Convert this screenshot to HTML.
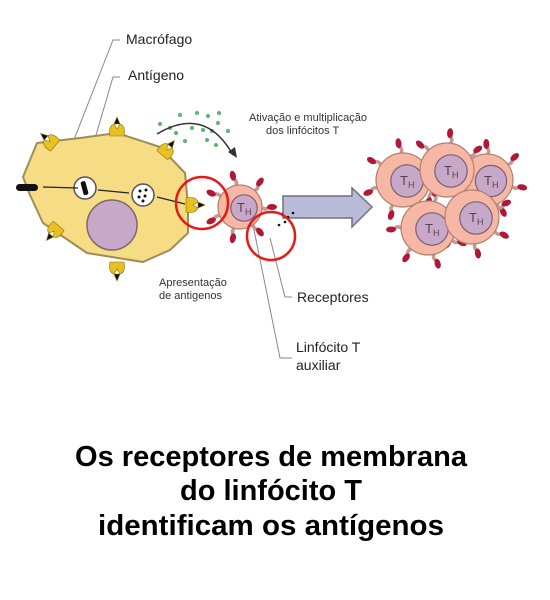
<!DOCTYPE html>
<html><head><meta charset="utf-8"><style>
html,body{margin:0;padding:0;background:#fff;width:550px;height:600px;overflow:hidden}
svg{display:block}
text{font-family:"Liberation Sans","DejaVu Sans",sans-serif}
</style></head><body>
<svg width="550" height="600" viewBox="0 0 550 600">
<g stroke="#888" fill="none" stroke-width="1">
<polyline points="68,155 113,40 120,40"/>
<polyline points="80,190 113,77 120,77"/>
<polyline points="253,225 280,358 292,358"/>
<polyline points="270,238 285,297 292,297"/>
</g>
<polygon points="23,177 37,143 80,138 117,133 160,147 185,173 188,205 188,233 170,250 143,262 87,253 43,223 30,195" fill="#f6dc85" stroke="#a08c55" stroke-width="2" stroke-linejoin="round"/>
<circle cx="112" cy="225" r="25" fill="#c8a8c8" stroke="#7a6a6a" stroke-width="1.5"/>
<circle cx="85" cy="188" r="11" fill="#fff" stroke="#555" stroke-width="1.5"/>
<rect x="82" y="181" width="5" height="14" rx="2" fill="#111" transform="rotate(-15 85 188)"/>
<circle cx="143" cy="195" r="11" fill="#fff" stroke="#555" stroke-width="1.5"/>
<g fill="#111"><circle cx="140" cy="191" r="1.5"/><circle cx="146" cy="190" r="1.5"/><circle cx="139" cy="197" r="1.5"/><circle cx="145" cy="196" r="1.5"/><circle cx="143" cy="201" r="1.5"/></g>
<rect x="16" y="184" width="22" height="7" rx="3.5" fill="#111"/>
<g stroke="#222" stroke-width="1.2" fill="#222">
<line x1="43" y1="187" x2="78" y2="188"/><line x1="98" y1="190" x2="129" y2="193"/><line x1="157" y1="197" x2="185" y2="204"/>
</g>
<g fill="#e8c020" stroke="#8a7010" stroke-width="0.6">
<g transform="translate(117,124)"><path d="M-7,12 Q-9,2 -3,0 L0,5 L3,0 Q9,2 7,12 Z"/><path d="M-3,0 L0,-7 L3,0 Z" fill="#111"/></g>
<g transform="translate(46,138) rotate(-50)"><path d="M-7,12 Q-9,2 -3,0 L0,5 L3,0 Q9,2 7,12 Z"/><path d="M-3,0 L0,-7 L3,0 Z" fill="#111"/></g>
<g transform="translate(170,146) rotate(40)"><path d="M-7,12 Q-9,2 -3,0 L0,5 L3,0 Q9,2 7,12 Z"/><path d="M-3,0 L0,-7 L3,0 Z" fill="#111"/></g>
<g transform="translate(51,235) rotate(-140)"><path d="M-7,12 Q-9,2 -3,0 L0,5 L3,0 Q9,2 7,12 Z"/><path d="M-3,0 L0,-7 L3,0 Z" fill="#111"/></g>
<g transform="translate(117,274) rotate(180)"><path d="M-7,12 Q-9,2 -3,0 L0,5 L3,0 Q9,2 7,12 Z"/><path d="M-3,0 L0,-7 L3,0 Z" fill="#111"/></g>
<g transform="translate(198,205) rotate(90)"><path d="M-7,12 Q-9,2 -3,0 L0,5 L3,0 Q9,2 7,12 Z"/><path d="M-3,0 L0,-7 L3,0 Z" fill="#111"/></g>
</g>
<g fill="#5bb56a">
<circle cx="160" cy="124" r="2"/><circle cx="176" cy="133" r="2"/><circle cx="192" cy="128" r="2"/><circle cx="197" cy="113" r="2"/><circle cx="208" cy="116" r="2"/><circle cx="219" cy="113" r="2"/><circle cx="203" cy="130" r="2"/><circle cx="212" cy="131" r="2"/><circle cx="218" cy="123" r="2"/><circle cx="228" cy="131" r="2"/><circle cx="170" cy="128" r="2"/><circle cx="185" cy="141" r="2"/><circle cx="207" cy="140" r="2"/><circle cx="216" cy="145" r="2"/><circle cx="180" cy="115" r="2"/>
</g>
<path d="M157,134 Q205,105 233,155" fill="none" stroke="#333" stroke-width="1.5"/>
<polygon points="228,152 237,158 235,147" fill="#333"/>
<polygon points="283,196 352,196 352,188 372,207 352,227 352,218 283,218" fill="#b8bcd8" stroke="#707080" stroke-width="1.5"/>
<g fill="#111"><circle cx="282" cy="214" r="1.3"/><circle cx="288" cy="217" r="1.3"/><circle cx="293" cy="213" r="1.3"/><circle cx="285" cy="222" r="1.3"/><circle cx="292" cy="224" r="1.3"/><circle cx="279" cy="225" r="1.3"/></g>
<g id="cells"></g>
<circle cx="202" cy="203" r="26" fill="none" stroke="#e81818" stroke-width="2.5"/>
<circle cx="271" cy="236" r="24" fill="none" stroke="#e81818" stroke-width="2.5"/>
<text x="126" y="44" font-size="14" fill="#222">Macrófago</text>
<text x="128" y="80" font-size="14" fill="#222">Antígeno</text>
<text x="249" y="121" font-size="11" fill="#333">Ativação e multiplicação</text>
<text x="266" y="134" font-size="11" fill="#333">dos linfócitos T</text>
<text x="159" y="286" font-size="11" fill="#333">Apresentação</text>
<text x="159" y="299" font-size="11" fill="#333">de antigenos</text>
<text x="297" y="302" font-size="14" fill="#222">Receptores</text>
<text x="296" y="352" font-size="14" fill="#222">Linfócito T</text>
<text x="296" y="370" font-size="14" fill="#222">auxiliar</text>
<g font-size="29" font-weight="bold" fill="#000" text-anchor="middle">
<text x="271" y="466" textLength="392" lengthAdjust="spacingAndGlyphs">Os receptores de membrana</text>
<text x="271" y="500">do linfócito T</text>
<text x="271" y="535" textLength="346" lengthAdjust="spacingAndGlyphs">identificam os antígenos</text>
</g>
</svg>
<script>
const NS='http://www.w3.org/2000/svg';
const g=document.getElementById('cells');
const cells=[[240,207,22],[403,180,27],[487,180,26],[447,170,27],[428,228,27],[472,217,27]];
function mk(t,a){const e=document.createElementNS(NS,t);for(const k in a)e.setAttribute(k,a[k]);return e;}
cells.forEach(([x,y,r],i)=>{
  const cg=mk('g',{});
  
  
  for(let k=0;k<7;k++){
    const a=k*2*Math.PI/7+i;
    const rx=x+Math.cos(a)*(r+7),ry=y+Math.sin(a)*(r+7);
    cg.appendChild(mk('path',{d:`M${x+Math.cos(a)*(r-2)} ${y+Math.sin(a)*(r-2)} Q${x+Math.cos(a+0.15)*(r+4)} ${y+Math.sin(a+0.15)*(r+4)} ${rx} ${ry}`,stroke:'#c89890','stroke-width':3.5,fill:'none'}));
    cg.appendChild(mk('ellipse',{cx:rx+Math.cos(a)*3,cy:ry+Math.sin(a)*3,rx:5,ry:3,fill:'#b01838',transform:`rotate(${a*180/Math.PI} ${rx+Math.cos(a)*3} ${ry+Math.sin(a)*3})`}));
  }
  g.appendChild(cg);
});
cells.forEach(([x,y,r],i)=>{
  const cg=mk('g',{});
  
  
  cg.appendChild(mk('circle',{cx:x,cy:y,r:r,fill:'#f6b8a4',stroke:'#b08070','stroke-width':1.2}));
  cg.appendChild(mk('circle',{cx:x+4,cy:y+1,r:r*0.6,fill:'#c8a8c8',stroke:'#7a6070','stroke-width':1.2}));
  const t=mk('text',{x:x-3,y:y+5,'font-size':13,fill:'#5a4050','font-family':'Liberation Serif,serif'});
  t.textContent='T';
  const s=mk('tspan',{'font-size':9,dy:3});s.textContent='H';t.appendChild(s);
  cg.appendChild(t);
  g.appendChild(cg);
});
</script>
</body></html>
